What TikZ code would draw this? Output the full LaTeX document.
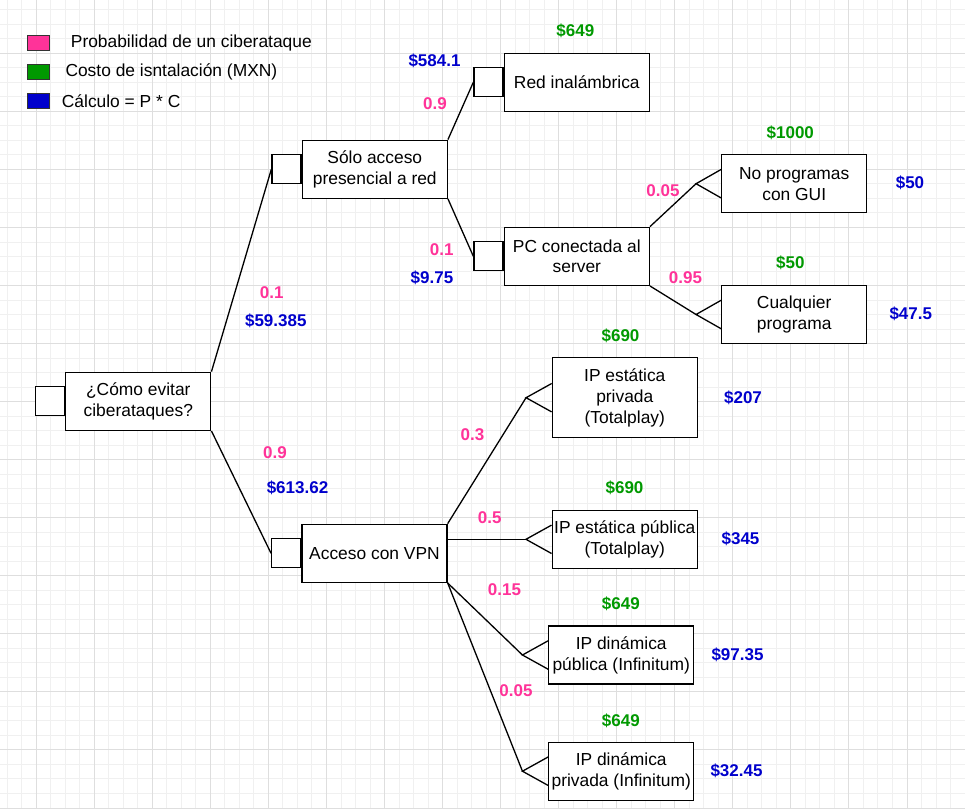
\documentclass[tikz,border=0pt]{standalone}
\usepackage{fontspec}
\setmainfont{Liberation Sans}
\usetikzlibrary{calc}
\definecolor{pinkc}{HTML}{FF3399}
\definecolor{greenc}{HTML}{009900}
\definecolor{bluec}{HTML}{0000CC}
\definecolor{gridmajor}{HTML}{DEDEDE}
\definecolor{gridminor}{HTML}{F0F0F0}
\newcommand\boxfont{\fontsize{17.4}{20.8}\selectfont}
\newcommand\lblfont{\fontsize{17}{20}\selectfont\bfseries}
\tikzset{
  box/.style={draw=black, line width=1.3pt, fill=white, minimum width=145pt, minimum height=58pt, align=center, inner sep=2pt, font=\boxfont},
  sqbox/.style={draw=black, line width=1.3pt, fill=white, minimum size=29pt, inner sep=0pt, anchor=east},
  conn/.style={draw=black, line width=1.3pt},
  prob/.style={text=pinkc, font=\lblfont, inner sep=0pt},
  cost/.style={text=greenc, font=\lblfont, inner sep=0pt},
  calc/.style={text=bluec, font=\lblfont, inner sep=0pt},
  legsq/.style={draw=black!80, line width=1pt, minimum width=22pt, minimum height=15pt, inner sep=0pt},
  legtxt/.style={anchor=west, inner sep=0pt, font=\boxfont}
}
\begin{document}
\begin{tikzpicture}[x=1pt,y=-1pt]
\useasboundingbox (0,0) rectangle (965,809);
\fill[white] (0,0) rectangle (965,809);
% grid
\foreach \i in {-2,...,64} {\draw[gridminor, line width=0.9pt] ({36.2+14.5125*\i},0) -- ({36.2+14.5125*\i},809);}
\foreach \i in {-3,...,52} {\draw[gridminor, line width=0.9pt] (0,{53.3+14.5125*\i}) -- (965,{53.3+14.5125*\i});}
\foreach \i in {0,...,16} {\draw[gridmajor, line width=0.9pt] ({36.2+58.05*\i},0) -- ({36.2+58.05*\i},809);}
\foreach \i in {-1,...,13} {\draw[gridmajor, line width=0.9pt] (0,{53.3+58.05*\i}) -- (965,{53.3+58.05*\i});}

% legend
\node[legsq, fill=pinkc] (lp) at (38,42.5) {};
\node[legsq, fill=greenc] (lg) at (38,71.5) {};
\node[legsq, fill=bluec] (lb) at (38,100.8) {};
\node[legtxt] (ltp) at (70.7,43) {Probabilidad de un ciberataque};
\node[legtxt] (ltg) at (65.3,72) {Costo de isntalación (MXN)};
\node[legtxt] (ltb) at (61.7,101) {Cálculo = P * C};

% decision boxes
\node[box] (root) at (138.3,401.3) {¿Cómo evitar\\ciberataques?};
\node[sqbox] (sqroot) at (root.west) {};
\node[box] (solo) at (374.8,169.2) {Sólo acceso\\presencial a red};
\node[sqbox] (sqsolo) at (solo.west) {};
\node[box] (red) at (576.8,82.2) {Red inalámbrica};
\node[sqbox] (sqred) at (red.west) {};
\node[box] (pc) at (576.8,256.3) {PC conectada al\\server};
\node[sqbox] (sqpc) at (pc.west) {};
\node[box] (acc) at (374.5,553.3) {Acceso con VPN};
\node[sqbox] (sqacc) at (acc.west) {};

% leaf boxes
\node[box] (np) at (794.2,183.7) {No programas\\con GUI};
\node[box] (cq) at (794.2,314.5) {Cualquier\\programa};
\node[box, minimum height=80pt] (esp) at (624.8,397.7) {IP estática\\privada\\(Totalplay)};
\node[box] (epu) at (624.8,539.3) {IP estática pública\\(Totalplay)};
\node[box] (dpu) at (621.2,655) {IP dinámica\\pública (Infinitum)};
\node[box] (dpr) at (621.2,771.2) {IP dinámica\\privada (Infinitum)};

% triangle apexes
\coordinate (anp) at ($(np.west)+(-25,0)$);
\coordinate (acq) at ($(cq.west)+(-25,0)$);
\coordinate (aesp) at ($(esp.west)+(-25.6,0)$);
\coordinate (aepu) at ($(epu.west)+(-25.6,0)$);
\coordinate (adpu) at ($(dpu.west)+(-25.6,0)$);
\coordinate (adpr) at ($(dpr.west)+(-25.6,0)$);
\foreach \b/\a in {np/anp, cq/acq, esp/aesp, epu/aepu, dpu/adpu, dpr/adpr} {
  \draw[conn] ([yshift=14.2pt]\b.west) -- (\a) -- ([yshift=-14.2pt]\b.west);
}

% connectors
\draw[conn] (root.north east) -- (sqsolo.west);
\draw[conn] (root.south east) -- (sqacc.west);
\draw[conn] (solo.north east) -- (sqred.west);
\draw[conn] (solo.south east) -- (sqpc.west);
\draw[conn] (pc.north east) -- (anp);
\draw[conn] (pc.south east) -- (acq);
\draw[conn] (acc.north east) -- (aesp);
\draw[conn] (aepu -| acc.east) -- (aepu);
\draw[conn] (acc.south east) -- (adpu);
\draw[conn] (acc.south east) -- (adpr);

% probabilities
\node[prob] (p1) at (435,104) {0.9};
\node[prob] (p2) at (441.7,249.3) {0.1};
\node[prob] (p3) at (663,190.7) {0.05};
\node[prob] (p4) at (685.5,277.7) {0.95};
\node[prob] (p5) at (271.7,292.3) {0.1};
\node[prob] (p6) at (472.5,434.3) {0.3};
\node[prob] (p7) at (275,452.3) {0.9};
\node[prob] (p8) at (489.7,517.7) {0.5};
\node[prob] (p9) at (504.5,589.3) {0.15};
\node[prob] (p10) at (516,691) {0.05};

% costs
\node[cost] (c1) at (575.3,31) {\$649};
\node[cost] (c2) at (790.3,133.3) {\$1000};
\node[cost] (c3) at (790.3,263.3) {\$50};
\node[cost] (c4) at (620.5,336) {\$690};
\node[cost] (c5) at (624.5,488.3) {\$690};
\node[cost] (c6) at (620.8,604) {\$649};
\node[cost] (c7) at (620.8,720.7) {\$649};

% calculations
\node[calc] (k1) at (434.5,60.7) {\$584.1};
\node[calc] (k2) at (432,278) {\$9.75};
\node[calc] (k3) at (910,183.3) {\$50};
\node[calc] (k4) at (910.8,314) {\$47.5};
\node[calc] (k5) at (275.8,320.7) {\$59.385};
\node[calc] (k6) at (743,398.3) {\$207};
\node[calc] (k7) at (297.5,488.3) {\$613.62};
\node[calc] (k8) at (740.5,539.3) {\$345};
\node[calc] (k9) at (737.5,655) {\$97.35};
\node[calc] (k10) at (736.5,771) {\$32.45};
\end{tikzpicture}
\end{document}
